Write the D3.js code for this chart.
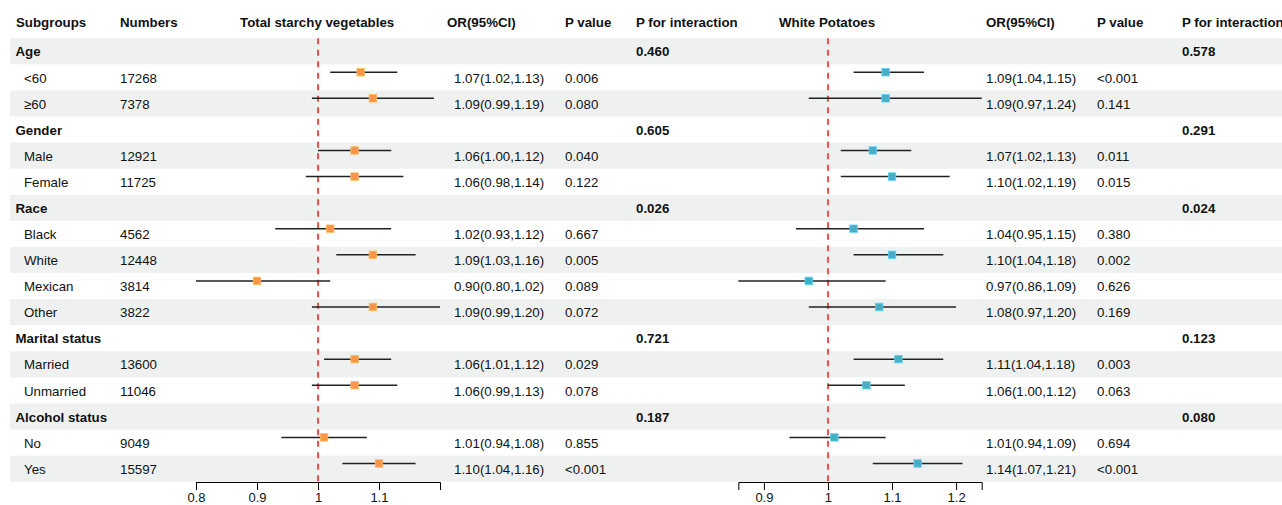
<!DOCTYPE html>
<html>
<head>
<meta charset="utf-8">
<script src="https://cdn.jsdelivr.net/npm/d3@7/dist/d3.min.js"></script>
<style>
  html, body { margin: 0; padding: 0; background: #fff; }
  svg text { font-family: "Liberation Sans", Arial, Helvetica, sans-serif; font-size: 13.3px; fill: #111; }
  .bold { font-weight: bold; }
</style>
</head>
<body>
<svg id="chart" width="1282" height="505"></svg>
<script>
// Subgroup rows (group headers have no counts or estimates)
const subgroups = ["Age", "<60", "≥60", "Gender", "Male", "Female", "Race", "Black", "White", "Mexican", "Other",
  "Marital status", "Married", "Unmarried", "Alcohol status", "No", "Yes"];
const isGroup = [true, false, false, true, false, false, true, false, false, false, false, true, false, false, true, false, false];
const numbers = ["", "17268", "7378", "", "12921", "11725", "", "4562", "12448", "3814", "3822", "", "13600", "11046", "", "9049", "15597"];

// Total starchy vegetables
const starchyOR   = [null, 1.07, 1.09, null, 1.06, 1.06, null, 1.02, 1.09, 0.90, 1.09, null, 1.06, 1.06, null, 1.01, 1.10];
const starchyLow  = [null, 1.02, 0.99, null, 1.00, 0.98, null, 0.93, 1.03, 0.80, 0.99, null, 1.01, 0.99, null, 0.94, 1.04];
const starchyHigh = [null, 1.13, 1.19, null, 1.12, 1.14, null, 1.12, 1.16, 1.02, 1.20, null, 1.12, 1.13, null, 1.08, 1.16];
const starchyP    = ["", "0.006", "0.080", "", "0.040", "0.122", "", "0.667", "0.005", "0.089", "0.072", "", "0.029", "0.078", "", "0.855", "<0.001"];
const starchyPint = ["0.460", "", "", "0.605", "", "", "0.026", "", "", "", "", "0.721", "", "", "0.187", "", ""];

// White potatoes
const potatoOR   = [null, 1.09, 1.09, null, 1.07, 1.10, null, 1.04, 1.10, 0.97, 1.08, null, 1.11, 1.06, null, 1.01, 1.14];
const potatoLow  = [null, 1.04, 0.97, null, 1.02, 1.02, null, 0.95, 1.04, 0.86, 0.97, null, 1.04, 1.00, null, 0.94, 1.07];
const potatoHigh = [null, 1.15, 1.24, null, 1.13, 1.19, null, 1.15, 1.18, 1.09, 1.20, null, 1.18, 1.12, null, 1.09, 1.21];
const potatoP    = ["", "<0.001", "0.141", "", "0.011", "0.015", "", "0.380", "0.002", "0.626", "0.169", "", "0.003", "0.063", "", "0.694", "<0.001"];
const potatoPint = ["0.578", "", "", "0.291", "", "", "0.024", "", "", "", "", "0.123", "", "", "0.080", "", ""];

// Axis ticks
const starchyTicks = [0.8, 0.9, 1, 1.1];
const potatoTicks  = [0.9, 1, 1.1, 1.2];

const svg = d3.select("#chart");
const fmtCI = (o, l, h) => `${o.toFixed(2)}(${l.toFixed(2)},${h.toFixed(2)})`;

const rows = d3.range(subgroups.length);
const y = d3.scaleBand().domain(rows).range([38.3, 481.7]);
const rowMid = i => y(i) + y.bandwidth() / 2;

// Alternating row shading
svg.append("g").selectAll("rect").data(rows.filter(i => i % 2 === 0)).join("rect")
  .attr("x", 10).attr("width", 1272)
  .attr("y", i => y(i)).attr("height", y.bandwidth())
  .attr("fill", "#EEF1F0");

// Column headers
const headers = [
  ["Subgroups", 16], ["Numbers", 120], ["Total starchy vegetables", 240], ["OR(95%CI)", 447],
  ["P value", 565], ["P for interaction", 636], ["White Potatoes", 779], ["OR(95%CI)", 986],
  ["P value", 1097], ["P for interaction", 1182]
];
svg.append("g").selectAll("text").data(headers).join("text")
  .attr("class", "bold").attr("x", d => d[1]).attr("y", 22.7).attr("dy", "0.35em").text(d => d[0]);

// Text columns
function textColumn(values, x, opts = {}) {
  svg.append("g").selectAll("text").data(rows.filter(i => values[i] !== "")).join("text")
    .attr("class", opts.bold ? "bold" : null)
    .attr("x", typeof x === "function" ? x : () => x)
    .attr("y", i => rowMid(i) + 0.5).attr("dy", "0.35em")
    .text(i => values[i]);
}
textColumn(subgroups, i => isGroup[i] ? 15.5 : 24);
svg.selectAll("text").filter(function () { return isGroup.some((g, i) => g && this.textContent === subgroups[i]); })
  .classed("bold", true);
textColumn(numbers, 120);
textColumn(rows.map(i => starchyOR[i] == null ? "" : fmtCI(starchyOR[i], starchyLow[i], starchyHigh[i])), 454);
textColumn(starchyP, 565);
textColumn(starchyPint, 636, { bold: true });
textColumn(rows.map(i => potatoOR[i] == null ? "" : fmtCI(potatoOR[i], potatoLow[i], potatoHigh[i])), 986);
textColumn(potatoP, 1097);
textColumn(potatoPint, 1182, { bold: true });

// Forest panels
function forest(orv, low, high, x, ticks, color) {
  const g = svg.append("g");
  const idx = rows.filter(i => orv[i] != null);
  // reference line at OR = 1
  g.append("line")
    .attr("x1", x(1)).attr("x2", x(1)).attr("y1", 38.3).attr("y2", 481.7)
    .attr("stroke", "#FF4B4B").attr("stroke-width", 2).attr("stroke-dasharray", "6,5.5");
  // confidence intervals
  g.selectAll("line.ci").data(idx).join("line").attr("class", "ci")
    .attr("x1", i => x(low[i])).attr("x2", i => x(high[i]))
    .attr("y1", i => rowMid(i) - 5.2).attr("y2", i => rowMid(i) - 5.2)
    .attr("stroke", "#222").attr("stroke-width", 1.5);
  // point estimates
  const s = 7.5;
  g.selectAll("rect.pt").data(idx).join("rect").attr("class", "pt")
    .attr("x", i => x(orv[i]) - s / 2).attr("y", i => rowMid(i) - 5.2 - s / 2)
    .attr("width", s).attr("height", s)
    .attr("fill", color).attr("stroke", d3.color(color).brighter(0.6)).attr("stroke-width", 0.8);
  // x axis
  const axis = g.append("g").attr("transform", "translate(0,482)")
    .call(d3.axisBottom(x).tickValues(ticks).tickFormat(d3.format("")).tickSizeOuter(0).tickSize(8));
  axis.select(".domain").attr("stroke", "#000");
  axis.selectAll(".tick line").attr("stroke", "#000");
  axis.selectAll(".tick text").attr("y", 11).style("font-family", "Liberation Sans, Arial, sans-serif")
    .style("font-size", "13px").attr("fill", "#222");
}

const xStarchy = d3.scaleLinear().domain([d3.min(starchyLow), d3.max(starchyHigh)]).range([196, 440]);
const xPotato  = d3.scaleLinear().domain([d3.min(potatoLow), d3.max(potatoHigh)]).range([738.3, 981.7]);
forest(starchyOR, starchyLow, starchyHigh, xStarchy, starchyTicks, "#F7964A");
forest(potatoOR, potatoLow, potatoHigh, xPotato, potatoTicks, "#4BACC6");
</script>
</body>
</html>
